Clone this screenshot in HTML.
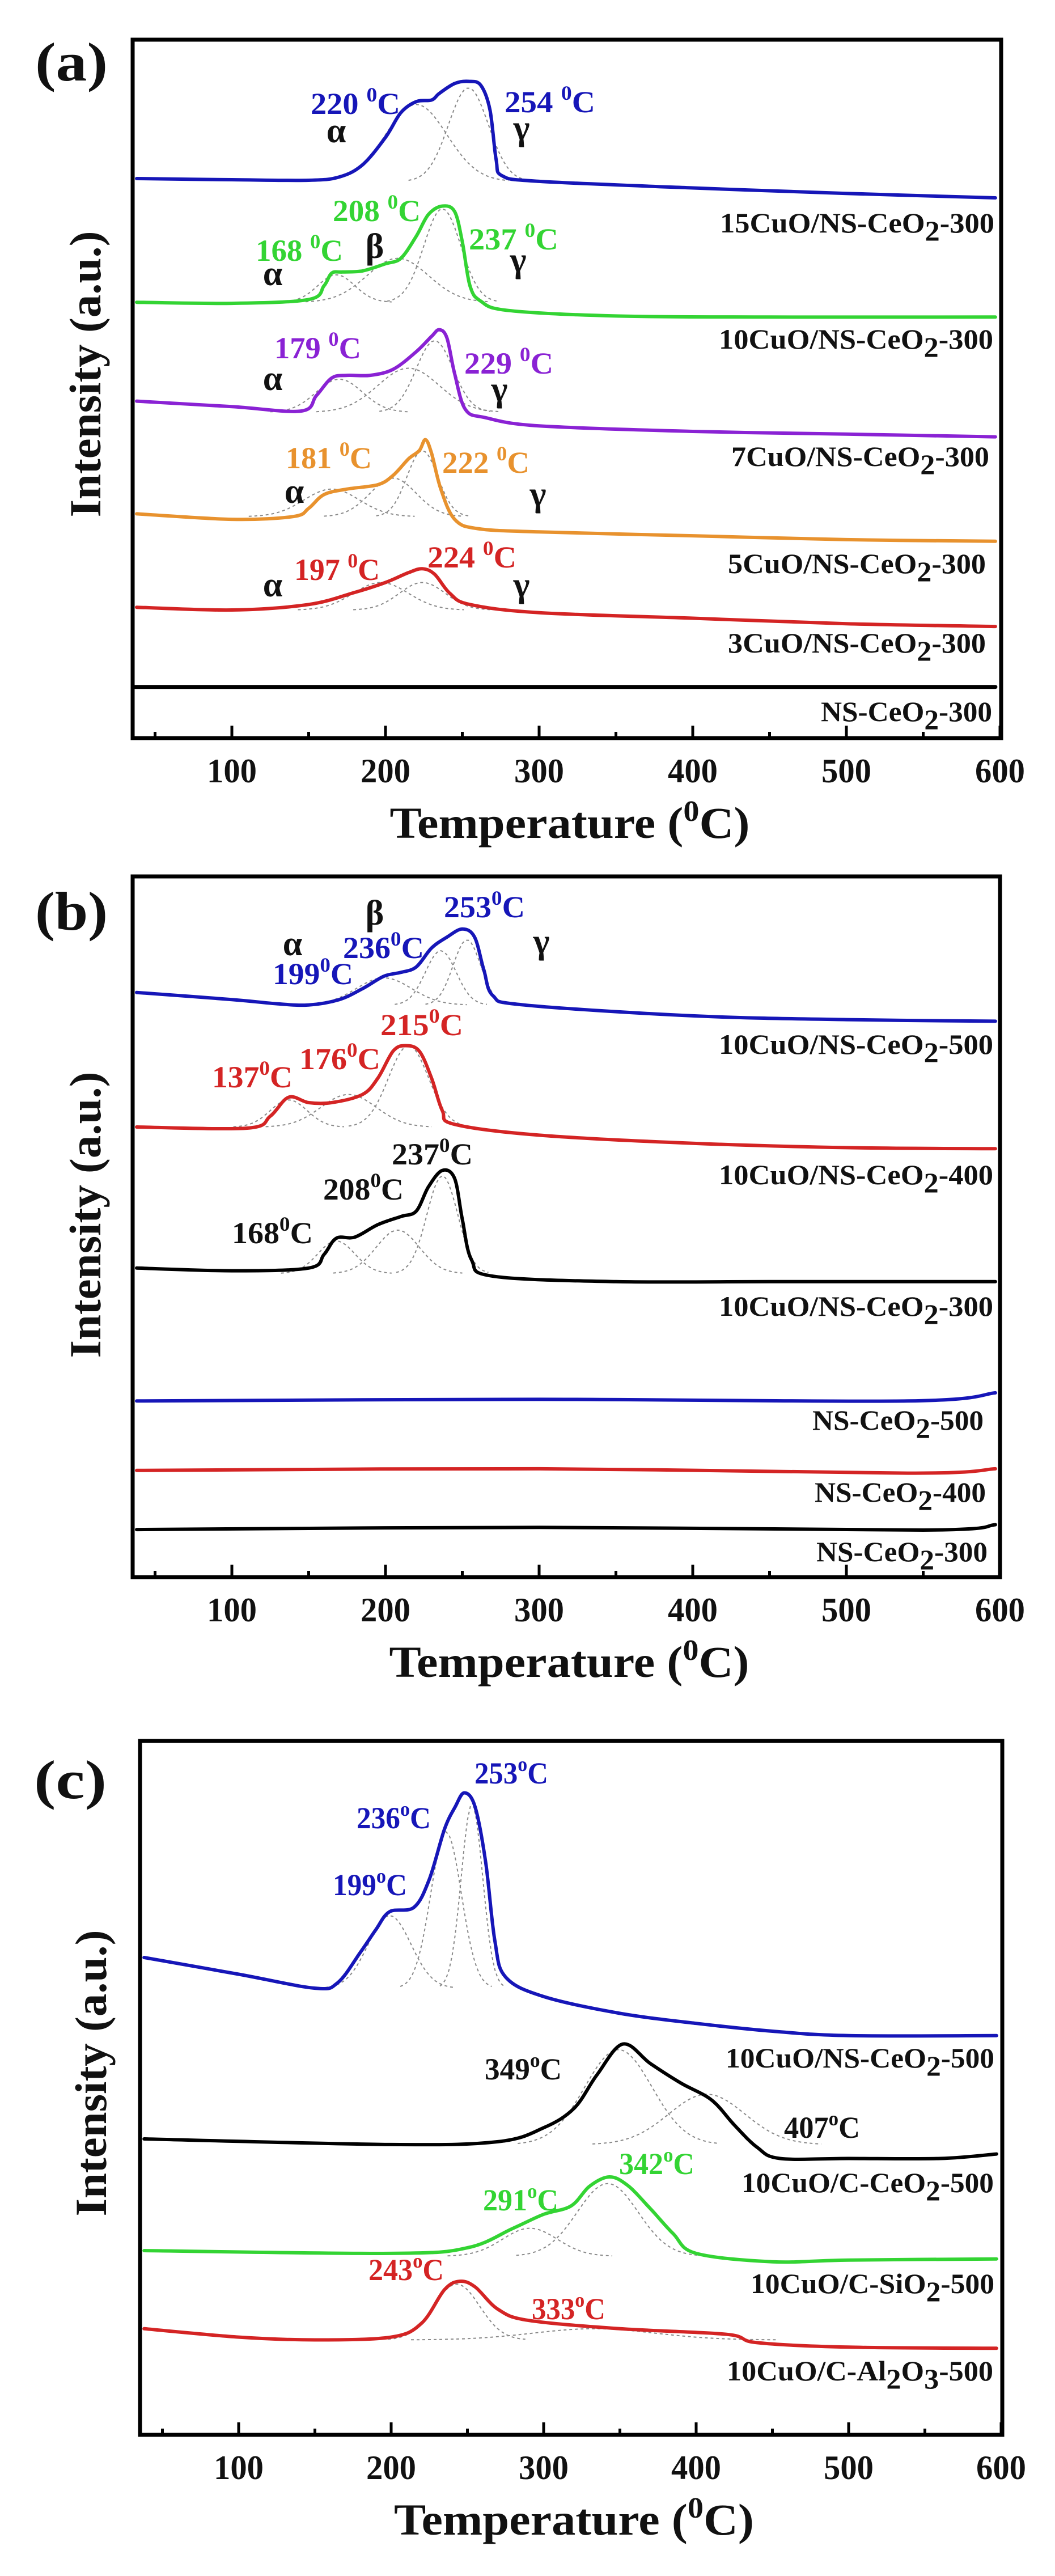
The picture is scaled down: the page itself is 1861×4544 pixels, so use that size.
<!DOCTYPE html>
<html><head><meta charset="utf-8"><title>H2-TPR profiles</title>
<style>
html,body{margin:0;padding:0;background:#fff;}
svg{display:block;}
text{font-family:"Liberation Serif",serif;font-weight:bold;}
</style></head>
<body>
<svg id="fig" width="1861" height="4544" viewBox="0 0 1861 4544" xmlns="http://www.w3.org/2000/svg">
<rect x="0" y="0" width="1861" height="4544" fill="#fff"/>
</svg>
<script>
// ---------- data ----------
const xTickValues = [100, 200, 300, 400, 500, 600];
const xMinorTicks = [50, 150, 250, 350, 450, 550];

// Panel (a)
const aBlueT = [38,100,150,170,185,200,210,220,230,235,245,254,262,268,272,276,300,400,500,597];
const aBlueV = [101.5,101.3,101.2,101.8,104,109,113.5,115.5,115.8,117,118.8,119.2,118.5,114,105,102,101,99.8,98.8,98];
const aGreenT = [38,100,150,160,165,172,185,200,210,220,228,237,245,250,255,262,280,350,450,597];
const aGreenV = [79,78.8,79.5,82,84.3,84.5,84.7,86,87,91,95,96.5,95.5,90,82,79.2,77.5,76.5,76.3,76.3];
const aPurpleT = [38,100,145,155,165,175,190,205,220,230,235,240,245,252,265,300,400,500,597];
const aPurpleV = [61,60,59.2,62,65.2,65.7,65.7,66.8,70,72.8,74,72.5,66,59.5,58,56.5,55.5,55,54.5];
const aOrangeT = [38,100,140,150,160,175,195,205,215,222,226,230,236,245,260,300,400,500,597];
const aOrangeV = [40.5,39.5,40,41.5,44,45,45.8,47.5,50.5,52,54,51.5,45,39.5,37.8,37.2,36.5,35.8,35.5];
const aRedT = [38,100,150,180,200,215,224,232,242,255,300,400,500,597];
const aRedV = [23.5,23,24,26.2,28,29.8,30.5,29.5,26,24,22.5,21.5,20.5,20];
const aNsT = [36,300,597];
const aNsV = [9,9,9];

// Panel (b)
const bBlueT = [38,100,130,150,170,185,199,210,220,230,240,250,258,264,270,290,400,500,597];
const bBlueV = [107.8,106.5,105.7,105.5,106.5,108.5,110.8,111.5,112.5,116,118,119.5,118,112,107.2,105.5,103.5,102.8,102.5];
const bRedT = [38,110,125,137,150,165,185,195,205,213,222,230,237,245,300,400,500,597];
const bRedV = [83,82.8,85,88.5,87.5,87.5,89,92,97,98,97,92,86,83.5,81.5,80,79.2,79];
const bBlackT = [38,100,150,160,168,180,195,210,220,228,237,245,250,256,270,350,450,597];
const bBlackV = [57,56.5,57,59.5,62.5,62.7,65,66.5,67.5,72,75,73.5,66,58.5,55.5,54.5,54.5,54.5];
const bNs500T = [38,300,540,597];
const bNs500V = [32.5,32.8,32.5,34];
const bNs400T = [38,300,540,597];
const bNs400V = [19.7,20,19.2,20];
const bNs300T = [38,300,550,597];
const bNs300V = [8.8,9.2,8.7,9.7];

// Panel (c)
const cBlueT = [38,100,150,165,180,190,199,215,225,235,242,248,255,262,268,275,300,350,400,450,500,597];
const cBlueV = [85.5,82.5,80,81,86.5,90.5,93.7,94.5,99.5,108.5,112.5,115,112.5,102.5,88.5,82,78.5,75.5,73.7,72.3,71.5,71.5];
const cBlackT = [38,200,270,300,320,335,352,370,390,410,425,440,455,500,560,597];
const cBlackV = [53,52,52.5,55,58.5,64.5,70,66.5,63,60,55.5,51.5,49.5,49.5,49.5,50.3];
const cGreenT = [38,200,250,280,300,318,330,343,355,370,385,400,450,500,597];
const cGreenV = [33,32.5,33.5,37,39.5,41,44.5,46.2,44.7,40.5,36,32.5,31,31.3,31.5];
const cRedT = [38,100,150,200,220,235,245,255,270,290,350,420,440,500,597];
const cRedV = [19,17.5,17,17.5,20,26,27.5,26.5,22.5,20.5,19,18,16.5,15.7,15.5];

// Deconvoluted peaks: [centre T, height, sigma]
const aBluePeaks = [[220,14,20],[254,17,13]];
const aGreenPeaks = [[168,5,12],[208,8,20],[237,17,12]];
const aPurplePeaks = [[170,6,15],[215,8,20],[232,13,12]];
const aOrangePeaks = [[165,5,18],[205,7,15],[224,12,10]];
const aRedPeaks = [[197,5,18],[224,5,15]];
const bBluePeaks = [[199,5,18],[236,10,10],[253,12,9]];
const bRedPeaks = [[137,5,12],[176,6,18],[215,15,13]];
const bBlackPeaks = [[168,6,12],[208,8,14],[237,18,10]];
const cBluePeaks = [[199,13,14],[236,28,10],[253,33,7]];
const cBlackPeaks = [[349,17,22],[407,9,25]];
const cGreenPeaks = [[291,5,18],[342,13,20]];
const cRedPeaks = [[243,10,15],[333,2,40]];

// ---------- helpers ----------
const NS = 'http://www.w3.org/2000/svg';
const svg = document.getElementById('fig');
function mk(tag, attrs, parent) {
  const e = document.createElementNS(NS, tag);
  for (const k in attrs) e.setAttribute(k, attrs[k]);
  (parent || svg).appendChild(e);
  return e;
}
function makeAxes(x0, slope, yBase, yBottomDisp, vf) {
  return {
    x: t => x0 + (t - 100) * slope,
    y: v => yBase + (yBottomDisp - v * 10) / vf
  };
}
const panels = {
  a: {ax: makeAxes(409, 2.71, 0, 1340, 1.0316), box: [234, 70, 1766, 1302]},
  b: {ax: makeAxes(409, 2.71, 1500, 1340, 1.045), box: [234, 1546, 1764, 2782]},
  c: {ax: makeAxes(421, 2.69, 3000, 1315, 1.0155), box: [247, 3071, 1768, 4295]}
};
function linePath(ax, T, V) {
  const P = T.map((t, i) => [ax.x(t), ax.y(V[i])]);
  let d = 'M' + P[0][0].toFixed(1) + ' ' + P[0][1].toFixed(1);
  for (let i = 0; i < P.length - 1; i++) {
    const p0 = P[Math.max(0, i - 1)], p1 = P[i], p2 = P[i + 1], p3 = P[Math.min(P.length - 1, i + 2)];
    const c1x = p1[0] + (p2[0] - p0[0]) / 6, c1y = p1[1] + (p2[1] - p0[1]) / 6;
    const c2x = p2[0] - (p3[0] - p1[0]) / 6, c2y = p2[1] - (p3[1] - p1[1]) / 6;
    d += 'C' + c1x.toFixed(1) + ' ' + c1y.toFixed(1) + ' ' + c2x.toFixed(1) + ' ' + c2y.toFixed(1) + ' ' + p2[0].toFixed(1) + ' ' + p2[1].toFixed(1);
  }
  return d;
}
function gaussPath(ax, base, p, tmin, tmax) {
  let d = '';
  for (let t = tmin, i = 0; t <= tmax; t += 2, i++) {
    const v = base + p[1] * Math.exp(-((t - p[0]) ** 2) / (2 * p[2] * p[2]));
    d += (i ? 'L' : 'M') + ax.x(t).toFixed(1) + ' ' + ax.y(v).toFixed(1);
  }
  return d;
}
function drawSeries(pk, name, T, V, color, width) {
  const ax = panels[pk].ax;
  const p = mk('path', {d: linePath(ax, T, V), fill: 'none', stroke: color, 'stroke-width': width, 'stroke-linejoin': 'round', 'stroke-linecap': 'round', 'clip-path': 'url(#clip-' + pk + ')'});
  
  
}
function drawPeaks(pk, name, base, peaks) {
  const ax = panels[pk].ax;
  peaks.forEach((pp, i) => {
    const g = mk('path', {d: gaussPath(ax, base, pp, pp[0] - 3 * pp[2], pp[0] + 3 * pp[2]), fill: 'none', stroke: '#8a8a8a', 'stroke-width': 2, 'stroke-dasharray': '5 5'});
    
    
  });
}
function txt(name, s, x, y, size, opts) {
  opts = opts || {};
  const t = mk('text', {x: x, y: y, 'font-size': size, fill: opts.fill || '#111', 'text-anchor': opts.anchor || 'start'});
  if (opts.len) { t.setAttribute('textLength', opts.len); t.setAttribute('lengthAdjust', 'spacingAndGlyphs'); }
  if (opts.rot) t.setAttribute('transform', opts.rot);
  
  
  return t;
}
function tspan(t, s, attrs) {
  const sp = mk('tspan', attrs || {}, t);
  sp.textContent = s;
  return sp;
}
function tempLabel(name, num, sup, unit, x, cy, color, len) {
  const t = txt(name, '', x, cy + 18, 54, {fill: color, len: len});
  tspan(t, num);
  tspan(t, sup, {dy: -22, 'font-size': 36});
  tspan(t, unit, {dy: 22});
}
function greek(name, ch, cx, cy) {
  const t = txt(name, '', cx, cy + 18, 62, {anchor: 'middle'});
  t.textContent = ch;
}
function sampleLabel(name, pre, sub, post, xr, cy, len) {
  const t = txt(name, '', xr, cy + 17, 50, {anchor: 'end', len: len});
  tspan(t, pre);
  tspan(t, sub, {dy: 14});
  tspan(t, post, {dy: -14});
}

// ---------- frames ----------
const defs = mk('defs', {});
['a', 'b', 'c'].forEach(pk => {
  const P = panels[pk], b = P.box;
  const cp = mk('clipPath', {id: 'clip-' + pk}, defs);
  mk('rect', {x: b[0], y: b[1], width: b[2] - b[0], height: b[3] - b[1]}, cp);
  const r = mk('rect', {x: b[0], y: b[1], width: b[2] - b[0], height: b[3] - b[1], fill: 'none', stroke: '#000', 'stroke-width': 7});
  
  
  xTickValues.forEach(v => {
    const x = P.ax.x(v);
    const tk = mk('line', {x1: x, x2: x, y1: b[3], y2: b[3] - 22, stroke: '#000', 'stroke-width': 5});
    
    
    const lb = txt('x-tick-label-' + pk + '-' + v, '', x, b[3] + 78, 60, {anchor: 'middle', len: 88});
    lb.textContent = String(v);
  });
  xMinorTicks.forEach(v => {
    const x = P.ax.x(v);
    const tk = mk('line', {x1: x, x2: x, y1: b[3], y2: b[3] - 11, stroke: '#000', 'stroke-width': 5});
    
    
  });
  const xt = txt('x-axis-title-' + pk, '', (b[0] + b[2]) / 2 + 5, b[3] + 176, 78, {anchor: 'middle', len: 635});
  tspan(xt, 'Temperature (');
  tspan(xt, '0', {dy: -30, 'font-size': 52});
  tspan(xt, 'C)', {dy: 30});
  const cy = pk === 'a' ? 660 : (pk === 'b' ? 2143 : 3657);
  const cx = pk === 'c' ? 160 : 150;
  const yt = txt('y-axis-title-' + pk, '', cx + 27, cy, 78, {anchor: 'middle', len: 505, rot: 'rotate(-90 ' + (cx + 27) + ' ' + cy + ')'});
  yt.textContent = 'Intensity (a.u.)';
});
txt('panel-label-a', '', 62, 142, 96, {len: 128}).textContent = '(a)';
txt('panel-label-b', '', 62, 1640, 96, {len: 128}).textContent = '(b)';
txt('panel-label-c', '', 60, 3172, 96, {len: 128}).textContent = '(c)';

// ---------- panel (a) ----------
const BLUE = '#1616b8', GREEN = '#33d433', PURPLE = '#8a22d4', ORANGE = '#e8922e', RED = '#d42424';
drawPeaks('a', 'a-15cuo', 101, aBluePeaks);
drawPeaks('a', 'a-10cuo', 79, aGreenPeaks);
drawPeaks('a', 'a-7cuo', 59, aPurplePeaks);
drawPeaks('a', 'a-5cuo', 40, aOrangePeaks);
drawPeaks('a', 'a-3cuo', 23, aRedPeaks);
drawSeries('a', 'a-15cuo-curve', aBlueT, aBlueV, BLUE, 6);
drawSeries('a', 'a-10cuo-curve', aGreenT, aGreenV, GREEN, 6);
drawSeries('a', 'a-7cuo-curve', aPurpleT, aPurpleV, PURPLE, 6);
drawSeries('a', 'a-5cuo-curve', aOrangeT, aOrangeV, ORANGE, 6);
drawSeries('a', 'a-3cuo-curve', aRedT, aRedV, RED, 6);
drawSeries('a', 'a-ns-ceo2-curve', aNsT, aNsV, '#000', 7);
sampleLabel('a-label-15cuo', '15CuO/NS-CeO', '2', '-300', 1754, 393, 484);
sampleLabel('a-label-10cuo', '10CuO/NS-CeO', '2', '-300', 1752, 598, 484);
sampleLabel('a-label-7cuo', '7CuO/NS-CeO', '2', '-300', 1745, 805, 455);
sampleLabel('a-label-5cuo', '5CuO/NS-CeO', '2', '-300', 1739, 994, 455);
sampleLabel('a-label-3cuo', '3CuO/NS-CeO', '2', '-300', 1739, 1134, 455);
sampleLabel('a-label-ns', 'NS-CeO', '2', '-300', 1750, 1255, 302);
tempLabel('a-ann-220', '220 ', '0', 'C', 548, 183, BLUE, 158);
tempLabel('a-ann-254', '254 ', '0', 'C', 890, 180, BLUE, 160);
greek('a-alpha-15', 'α', 593, 233); greek('a-gamma-15', 'γ', 920, 228);
tempLabel('a-ann-168', '168 ', '0', 'C', 451, 442, GREEN, 154);
tempLabel('a-ann-208', '208 ', '0', 'C', 587, 372, GREEN, 155);
tempLabel('a-ann-237', '237 ', '0', 'C', 827, 422, GREEN, 158);
greek('a-alpha-10', 'α', 481, 485); greek('a-beta-10', 'β', 661, 437); greek('a-gamma-10', 'γ', 914, 461);
tempLabel('a-ann-179', '179 ', '0', 'C', 484, 614, PURPLE, 153);
tempLabel('a-ann-229', '229 ', '0', 'C', 819, 641, PURPLE, 157);
greek('a-alpha-7', 'α', 481, 670); greek('a-gamma-7', 'γ', 881, 689);
tempLabel('a-ann-181', '181 ', '0', 'C', 504, 808, ORANGE, 152);
tempLabel('a-ann-222', '222 ', '0', 'C', 780, 816, ORANGE, 154);
greek('a-alpha-5', 'α', 519, 869); greek('a-gamma-5', 'γ', 949, 874);
tempLabel('a-ann-197', '197 ', '0', 'C', 519, 1005, RED, 151);
tempLabel('a-ann-224', '224 ', '0', 'C', 754, 983, RED, 157);
greek('a-alpha-3', 'α', 481, 1034); greek('a-gamma-3', 'γ', 920, 1034);

// ---------- panel (b) ----------
drawPeaks('b', 'b-10cuo-500', 105.5, bBluePeaks);
drawPeaks('b', 'b-10cuo-400', 83, bRedPeaks);
drawPeaks('b', 'b-10cuo-300', 56, bBlackPeaks);
drawSeries('b', 'b-10cuo-500-curve', bBlueT, bBlueV, BLUE, 6);
drawSeries('b', 'b-10cuo-400-curve', bRedT, bRedV, RED, 6);
drawSeries('b', 'b-10cuo-300-curve', bBlackT, bBlackV, '#000', 6);
drawSeries('b', 'b-ns-500-curve', bNs500T, bNs500V, BLUE, 6);
drawSeries('b', 'b-ns-400-curve', bNs400T, bNs400V, RED, 6);
drawSeries('b', 'b-ns-300-curve', bNs300T, bNs300V, '#000', 6);
sampleLabel('b-label-10cuo-500', '10CuO/NS-CeO', '2', '-500', 1752, 1842, 484);
sampleLabel('b-label-10cuo-400', '10CuO/NS-CeO', '2', '-400', 1752, 2072, 484);
sampleLabel('b-label-10cuo-300', '10CuO/NS-CeO', '2', '-300', 1752, 2304, 484);
sampleLabel('b-label-ns-500', 'NS-CeO', '2', '-500', 1735, 2505, 302);
sampleLabel('b-label-ns-400', 'NS-CeO', '2', '-400', 1739, 2632, 302);
sampleLabel('b-label-ns-300', 'NS-CeO', '2', '-300', 1742, 2737, 302);
tempLabel('b-ann-199', '199', '0', 'C', 481, 1718, BLUE, 142);
tempLabel('b-ann-236', '236', '0', 'C', 605, 1672, BLUE, 143);
tempLabel('b-ann-253', '253', '0', 'C', 783, 1600, BLUE, 143);
greek('b-alpha', 'α', 516, 1667); greek('b-beta', 'β', 661, 1613); greek('b-gamma', 'γ', 955, 1663);
tempLabel('b-ann-137', '137', '0', 'C', 374, 1900, RED, 142);
tempLabel('b-ann-176', '176', '0', 'C', 528, 1868, RED, 143);
tempLabel('b-ann-215', '215', '0', 'C', 671, 1808, RED, 146);
tempLabel('b-ann-168', '168', '0', 'C', 409, 2175, '#111', 143);
tempLabel('b-ann-208', '208', '0', 'C', 570, 2098, '#111', 142);
tempLabel('b-ann-237', '237', '0', 'C', 691, 2036, '#111', 143);

// ---------- panel (c) ----------
drawPeaks('c', 'c-ns-ceo2', 80, cBluePeaks);
drawPeaks('c', 'c-c-ceo2', 52, cBlackPeaks);
drawPeaks('c', 'c-c-sio2', 32, cGreenPeaks);
drawPeaks('c', 'c-c-al2o3', 17, cRedPeaks);
drawSeries('c', 'c-ns-ceo2-curve', cBlueT, cBlueV, BLUE, 6);
drawSeries('c', 'c-c-ceo2-curve', cBlackT, cBlackV, '#000', 6);
drawSeries('c', 'c-c-sio2-curve', cGreenT, cGreenV, GREEN, 6);
drawSeries('c', 'c-c-al2o3-curve', cRedT, cRedV, RED, 6);
sampleLabel('c-label-ns-ceo2', '10CuO/NS-CeO', '2', '-500', 1754, 3630, 474);
sampleLabel('c-label-c-ceo2', '10CuO/C-CeO', '2', '-500', 1753, 3850, 445);
sampleLabel('c-label-c-sio2', '10CuO/C-SiO', '2', '-500', 1754, 4028, 430);
(function(){
  const t = txt('c-label-c-al2o3', '', 1752, 4199, 50, {anchor: 'end', len: 470});
  tspan(t, '10CuO/C-Al');
  tspan(t, '2', {dy: 14});
  tspan(t, 'O', {dy: -14});
  tspan(t, '3', {dy: 14});
  tspan(t, '-500', {dy: -14});
})();
tempLabel('c-ann-199', '199', 'o', 'C', 587, 3325, BLUE, 131);
tempLabel('c-ann-236', '236', 'o', 'C', 629, 3207, BLUE, 131);
tempLabel('c-ann-253', '253', 'o', 'C', 837, 3128, BLUE, 130);
tempLabel('c-ann-349', '349', 'o', 'C', 855, 3650, '#111', 136);
tempLabel('c-ann-407', '407', 'o', 'C', 1383, 3753, '#111', 134);
tempLabel('c-ann-291', '291', 'o', 'C', 852, 3881, GREEN, 133);
tempLabel('c-ann-342', '342', 'o', 'C', 1092, 3817, GREEN, 133);
tempLabel('c-ann-243', '243', 'o', 'C', 650, 4004, RED, 133);
tempLabel('c-ann-333', '333', 'o', 'C', 938, 4073, RED, 130);
</script>
</body></html>
